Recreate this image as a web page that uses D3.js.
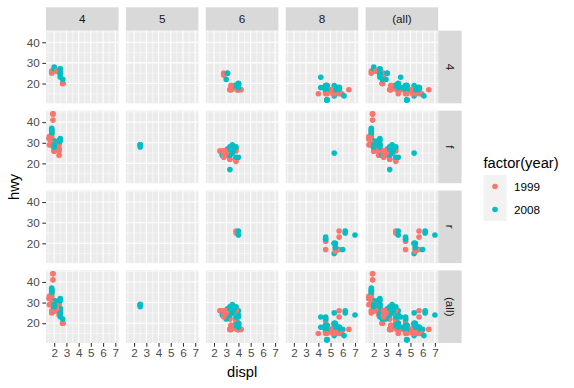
<!DOCTYPE html>
<html lang="en">
<head>
<meta charset="UTF-8">
<title>hwy vs displ by drv and cyl</title>
<script src="https://cdn.jsdelivr.net/npm/d3@7"></script>
<style>
    body { margin: 0; background: #fff; }
    svg { display: block; font-family: "Liberation Sans", Arial, sans-serif; }
    .tick text { fill: #4D4D4D; font-size: 11.7px; }
    .tick line { stroke: #333; stroke-width: 1.07px; }
</style>
</head>
<body>
<div id="chart"></div>
<script>
// facet labels
const cylLevels = ["4", "5", "6", "8", "(all)"]
const drvLevels = ["4", "f", "r", "(all)"]
const yearLevels = [1999, 2008]
const xTicks = [2, 3, 4, 5, 6, 7]
const yTicks = [20, 30, 40]

// mpg data, one entry per car (grouped by model)
const displ = [
    1.8, 1.8, 2.0, 2.0, 2.8, 2.8, 3.1,
    1.8, 1.8, 2.0, 2.0, 2.8, 2.8, 3.1, 3.1, 2.8, 3.1, 4.2,
    5.3, 5.3, 5.3, 5.7, 6.0, 5.7, 5.7, 6.2, 6.2, 7.0,
    5.3, 5.3, 5.7, 6.5,
    2.4, 2.4, 3.1, 3.5, 3.6,
    2.4, 3.0, 3.3, 3.3, 3.3, 3.3, 3.3, 3.8, 3.8, 3.8, 4.0,
    3.7, 3.7, 3.9, 3.9, 4.7, 4.7, 4.7, 5.2, 5.2,
    3.9, 4.7, 4.7, 4.7, 5.2, 5.7, 5.9,
    4.7, 4.7, 4.7, 4.7, 4.7, 4.7, 5.2, 5.2, 5.7, 5.9,
    4.6, 5.4, 5.4,
    4.0, 4.0, 4.0, 4.0, 4.6, 5.0,
    4.2, 4.2, 4.6, 4.6, 4.6, 5.4, 5.4,
    3.8, 3.8, 4.0, 4.0, 4.6, 4.6, 4.6, 4.6, 5.4,
    1.6, 1.6, 1.6, 1.6, 1.6, 1.8, 1.8, 1.8, 2.0,
    2.4, 2.4, 2.4, 2.4, 2.5, 2.5, 3.3,
    2.0, 2.0, 2.0, 2.0, 2.7, 2.7, 2.7,
    3.0, 3.7, 4.0, 4.7, 4.7, 4.7, 5.7, 6.1,
    4.0, 4.2, 4.4, 4.6,
    5.4, 5.4, 5.4,
    4.0, 4.0, 4.6, 5.0,
    2.4, 2.4, 2.5, 2.5, 3.5, 3.5, 3.0, 3.0, 3.5,
    3.3, 3.3, 4.0, 5.6,
    3.1, 3.8, 3.8, 3.8, 5.3,
    2.5, 2.5, 2.5, 2.5, 2.5, 2.5,
    2.2, 2.2, 2.5, 2.5, 2.5, 2.5, 2.5, 2.5,
    2.7, 2.7, 3.4, 3.4, 4.0, 4.7,
    2.2, 2.2, 2.4, 2.4, 3.0, 3.0, 3.5,
    2.2, 2.2, 2.4, 2.4, 3.0, 3.0, 3.3,
    1.8, 1.8, 1.8, 1.8, 1.8,
    4.7, 5.7,
    2.7, 2.7, 2.7, 3.4, 3.4, 4.0, 4.0,
    2.0, 2.0, 2.0, 2.0, 2.8,
    1.9, 2.0, 2.0, 2.0, 2.0, 2.5, 2.5, 2.8, 2.8,
    1.9, 1.9, 2.0, 2.0, 2.5, 2.5,
    1.8, 1.8, 2.0, 2.0, 2.8, 2.8, 3.6
]
const hwy = [
    29, 29, 31, 30, 26, 26, 27,
    26, 25, 28, 27, 25, 25, 25, 25, 24, 25, 23,
    20, 15, 20, 17, 17, 26, 23, 26, 25, 24,
    19, 14, 15, 17,
    27, 30, 26, 29, 26,
    24, 24, 22, 22, 24, 24, 17, 22, 21, 23, 23,
    19, 18, 17, 17, 19, 19, 12, 17, 15,
    17, 17, 12, 17, 16, 18, 15,
    16, 12, 17, 17, 16, 12, 15, 16, 17, 15,
    17, 17, 18,
    17, 19, 17, 19, 19, 17,
    17, 17, 16, 16, 17, 15, 17,
    26, 25, 26, 24, 21, 22, 23, 22, 20,
    33, 32, 32, 29, 32, 34, 36, 36, 29,
    26, 27, 30, 31, 26, 26, 28,
    26, 29, 28, 27, 24, 24, 24,
    22, 19, 20, 17, 12, 19, 18, 14,
    15, 18, 18, 15,
    17, 16, 18,
    17, 19, 19, 17,
    29, 27, 31, 32, 27, 26, 26, 25, 25,
    17, 17, 20, 18,
    26, 26, 27, 28, 25,
    25, 24, 27, 25, 26, 23,
    26, 26, 26, 26, 25, 27, 25, 27,
    20, 20, 19, 17, 20, 17,
    29, 27, 31, 31, 26, 26, 28,
    27, 29, 31, 31, 26, 26, 27,
    30, 33, 35, 37, 35,
    15, 18,
    20, 20, 22, 17, 19, 18, 20,
    29, 26, 29, 29, 24,
    44, 29, 26, 29, 29, 29, 29, 23, 24,
    44, 41, 29, 26, 28, 29,
    29, 29, 28, 29, 26, 26, 26
]
const year = [
    1999, 1999, 2008, 2008, 1999, 1999, 2008,
    1999, 1999, 2008, 2008, 1999, 1999, 2008, 2008, 1999, 2008, 2008,
    2008, 2008, 2008, 1999, 2008, 1999, 1999, 2008, 2008, 2008,
    2008, 2008, 1999, 1999,
    1999, 2008, 1999, 2008, 2008,
    1999, 1999, 1999, 1999, 2008, 2008, 2008, 1999, 1999, 2008, 2008,
    2008, 2008, 1999, 1999, 2008, 2008, 2008, 1999, 1999,
    1999, 2008, 2008, 2008, 1999, 2008, 1999,
    2008, 2008, 2008, 2008, 2008, 2008, 1999, 1999, 2008, 1999,
    1999, 1999, 2008,
    1999, 1999, 1999, 2008, 2008, 1999,
    1999, 1999, 1999, 1999, 2008, 1999, 2008,
    1999, 1999, 2008, 2008, 1999, 1999, 2008, 2008, 2008,
    1999, 1999, 1999, 1999, 1999, 2008, 2008, 2008, 2008,
    1999, 1999, 2008, 2008, 1999, 1999, 2008,
    1999, 1999, 2008, 2008, 2008, 2008, 2008,
    2008, 2008, 1999, 1999, 2008, 2008, 2008, 2008,
    1999, 2008, 2008, 1999,
    1999, 1999, 2008,
    1999, 2008, 2008, 1999,
    1999, 1999, 2008, 2008, 2008, 2008, 1999, 1999, 2008,
    1999, 1999, 2008, 2008,
    1999, 1999, 1999, 2008, 2008,
    1999, 1999, 2008, 2008, 2008, 2008,
    1999, 1999, 1999, 1999, 2008, 2008, 2008, 2008,
    1999, 1999, 1999, 1999, 2008, 2008,
    1999, 1999, 2008, 2008, 1999, 1999, 2008,
    1999, 1999, 2008, 2008, 1999, 1999, 2008,
    1999, 1999, 1999, 2008, 2008,
    1999, 2008,
    1999, 1999, 2008, 1999, 1999, 2008, 2008,
    1999, 1999, 2008, 2008, 1999,
    1999, 1999, 1999, 2008, 2008, 2008, 2008, 1999, 1999,
    1999, 1999, 1999, 1999, 2008, 2008,
    1999, 1999, 2008, 2008, 1999, 1999, 2008
]
const cyl = [
    4, 4, 4, 4, 6, 6, 6,
    4, 4, 4, 4, 6, 6, 6, 6, 6, 6, 8,
    8, 8, 8, 8, 8, 8, 8, 8, 8, 8,
    8, 8, 8, 8,
    4, 4, 6, 6, 6,
    4, 6, 6, 6, 6, 6, 6, 6, 6, 6, 6,
    6, 6, 6, 6, 8, 8, 8, 8, 8,
    6, 8, 8, 8, 8, 8, 8,
    8, 8, 8, 8, 8, 8, 8, 8, 8, 8,
    8, 8, 8,
    6, 6, 6, 6, 8, 8,
    6, 6, 8, 8, 8, 8, 8,
    6, 6, 6, 6, 8, 8, 8, 8, 8,
    4, 4, 4, 4, 4, 4, 4, 4, 4,
    4, 4, 4, 4, 6, 6, 6,
    4, 4, 4, 4, 6, 6, 6,
    6, 6, 6, 8, 8, 8, 8, 8,
    8, 8, 8, 8,
    8, 8, 8,
    6, 6, 8, 8,
    4, 4, 4, 4, 6, 6, 6, 6, 6,
    6, 6, 6, 8,
    6, 6, 6, 6, 8,
    4, 4, 4, 4, 4, 4,
    4, 4, 4, 4, 4, 4, 4, 4,
    4, 4, 6, 6, 6, 8,
    4, 4, 4, 4, 6, 6, 6,
    4, 4, 4, 4, 6, 6, 6,
    4, 4, 4, 4, 4,
    8, 8,
    4, 4, 4, 6, 6, 6, 6,
    4, 4, 4, 4, 6,
    4, 4, 4, 4, 4, 5, 5, 6, 6,
    4, 4, 4, 4, 5, 5,
    4, 4, 4, 4, 6, 6, 6
]
const drv = [
    "fffffff", "44444444444", "rrrrrrrrrr", "4444", "fffff", "fffffffffff",
    "444444444", "4444444", "4444444444", "rrr", "444444", "4444444",
    "rrrrrrrrr", "fffffffff", "fffffff", "fffffff", "44444444", "4444",
    "rrr", "4444", "fffffffff", "4444", "fffff", "444444", "44444444",
    "444444", "fffffff", "fffffff", "fffff", "44", "4444444", "fffff",
    "fffffffff", "ffffff", "fffffff"
].join("").split("")

const W = 574, H = 388
const panelLeft = 46, panelTop = 30.7
const pw = 72.6, ph = 72.6, gap = 7.3
const stripH = 23.4

const color = d3.scaleOrdinal().domain(yearLevels).range(["#F8766D", "#00BFC4"])
const x = d3.scaleLinear().domain([1.33, 7.27]).range([0, pw])
const y = d3.scaleLinear().domain([10.4, 45.6]).range([ph, 0])

const svg = d3.select("#chart").append("svg")
    .attr("width", W).attr("height", H)

const cars = d3.range(displ.length).map(i => ({
    displ: displ[i], hwy: hwy[i], year: year[i], cyl: String(cyl[i]), drv: drv[i]
}))

// column strips
cylLevels.forEach((c, ci) => {
    const g = svg.append("g").attr("transform", `translate(${panelLeft + ci * (pw + gap)},${panelTop - stripH})`)
    g.append("rect").attr("width", pw).attr("height", stripH).attr("fill", "#D9D9D9")
    g.append("text").attr("x", pw / 2).attr("y", stripH / 2).attr("dy", "0.35em")
        .attr("text-anchor", "middle").attr("font-size", "11.7px").attr("fill", "#1A1A1A")
        .text(c)
})

// row strips
const stripX = panelLeft + 5 * pw + 4 * gap
drvLevels.forEach((r, ri) => {
    const g = svg.append("g").attr("transform", `translate(${stripX},${panelTop + ri * (ph + gap)})`)
    g.append("rect").attr("width", stripH).attr("height", ph).attr("fill", "#D9D9D9")
    g.append("text").attr("transform", `translate(${stripH / 2},${ph / 2}) rotate(90)`)
        .attr("dy", "0.35em").attr("text-anchor", "middle")
        .attr("font-size", "11.7px").attr("fill", "#1A1A1A")
        .text(r)
})

const xMinor = [1.5, 2.5, 3.5, 4.5, 5.5, 6.5]
const yMinor = [15, 25, 35, 45]

drvLevels.forEach((r, ri) => {
    cylLevels.forEach((c, ci) => {
        const g = svg.append("g")
            .attr("transform", `translate(${panelLeft + ci * (pw + gap)},${panelTop + ri * (ph + gap)})`)
        g.append("rect").attr("width", pw).attr("height", ph).attr("fill", "#EBEBEB")

        g.selectAll(".vmin").data(xMinor).enter().append("line")
            .attr("x1", d => x(d)).attr("x2", d => x(d)).attr("y1", 0).attr("y2", ph)
            .attr("stroke", "#fff").attr("stroke-width", 0.53)
        g.selectAll(".hmin").data(yMinor).enter().append("line")
            .attr("y1", d => y(d)).attr("y2", d => y(d)).attr("x1", 0).attr("x2", pw)
            .attr("stroke", "#fff").attr("stroke-width", 0.53)
        g.selectAll(".vmaj").data(xTicks).enter().append("line")
            .attr("x1", d => x(d)).attr("x2", d => x(d)).attr("y1", 0).attr("y2", ph)
            .attr("stroke", "#fff").attr("stroke-width", 1.07)
        g.selectAll(".hmaj").data(yTicks).enter().append("line")
            .attr("y1", d => y(d)).attr("y2", d => y(d)).attr("x1", 0).attr("x2", pw)
            .attr("stroke", "#fff").attr("stroke-width", 1.07)

        const pts = cars.filter(d => (r === "(all)" || d.drv === r) && (c === "(all)" || d.cyl === c))
        g.selectAll("circle").data(pts).enter().append("circle")
            .attr("cx", d => x(d.displ)).attr("cy", d => y(d.hwy))
            .attr("r", 2.8)
            .attr("fill", d => color(d.year))

        // axes on the outer panels only
        if (ri === drvLevels.length - 1) {
            const ax = g.append("g").attr("transform", `translate(0,${ph})`)
                .call(d3.axisBottom(x).tickValues(xTicks).tickFormat(d3.format("d"))
                    .tickSize(3.67).tickPadding(2.5))
            ax.select(".domain").remove()
            ax.attr("font-family", null).attr("font-size", null)
        }
        if (ci === 0) {
            const ay = g.append("g")
                .call(d3.axisLeft(y).tickValues(yTicks).tickFormat(d3.format("d"))
                    .tickSize(3.67).tickPadding(2.5))
            ay.select(".domain").remove()
            ay.attr("font-family", null).attr("font-size", null)
        }
    })
})

// axis titles
const panelsRight = stripX
const panelsBottom = panelTop + 4 * ph + 3 * gap
svg.append("text").attr("x", (panelLeft + panelsRight) / 2).attr("y", 377)
    .attr("text-anchor", "middle").attr("font-size", "14.7px").attr("fill", "#000")
    .text("displ")
svg.append("text")
    .attr("transform", `translate(19,${(panelTop + panelsBottom) / 2}) rotate(-90)`)
    .attr("text-anchor", "middle").attr("font-size", "14.7px").attr("fill", "#000")
    .text("hwy")

// legend
const lg = svg.append("g").attr("transform", "translate(483.5,0)")
lg.append("text").attr("x", 0).attr("y", 168).attr("font-size", "14.7px").attr("fill", "#000")
    .text("factor(year)")
const keys = lg.selectAll(".key").data(yearLevels).enter().append("g")
    .attr("transform", (d, i) => `translate(0,${175 + i * 23})`)
keys.append("rect").attr("width", 23).attr("height", 23).attr("fill", "#F2F2F2")
keys.append("circle").attr("cx", 11.5).attr("cy", 11.5).attr("r", 2.8).attr("fill", d => color(d))
keys.append("text").attr("x", 30.5).attr("y", 11.5).attr("dy", "0.35em")
    .attr("font-size", "11.7px").attr("fill", "#000").text(d => d)
</script>
</body>
</html>
